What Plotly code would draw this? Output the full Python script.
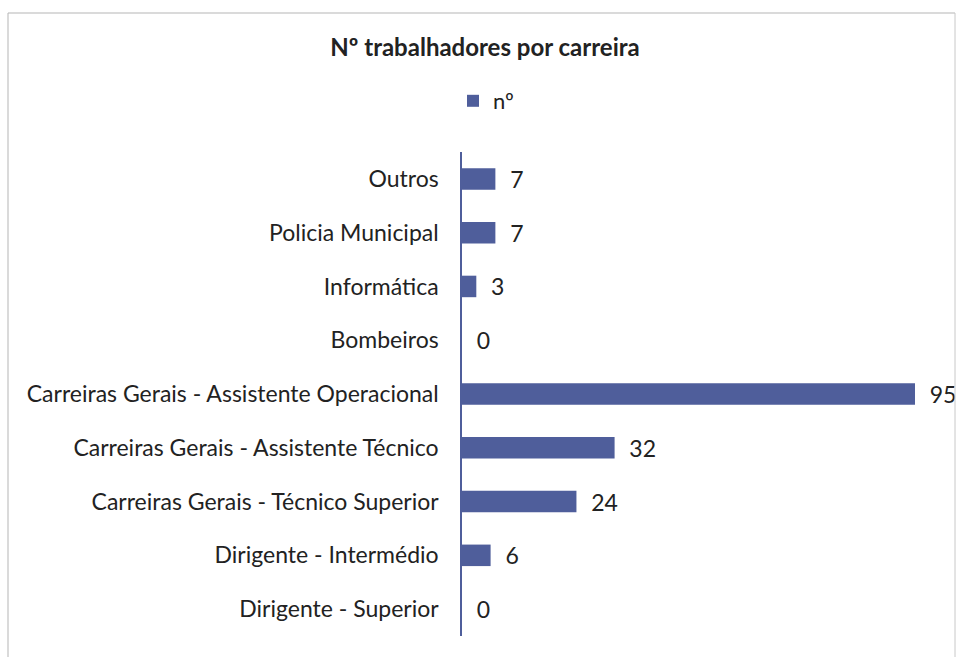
import plotly.graph_objects as go

categories = [
    "Dirigente - Superior",
    "Dirigente - Intermédio",
    "Carreiras Gerais - Técnico Superior",
    "Carreiras Gerais - Assistente Técnico",
    "Carreiras Gerais - Assistente Operacional",
    "Bombeiros",
    "Informática",
    "Policia Municipal",
    "Outros",
]
values = [0, 6, 24, 32, 95, 0, 3, 7, 7]
series_name = "nº"
title_text = "Nº trabalhadores por carreira"

BAR = "#4f5e9b"
TXT = "#222222"
FONT = "Lato"

W, H = 958, 657
L, R, T, B = 462, 43, 152, 21
pw = W - L - R
ph = H - T - B

def px_x(x):
    return (x - L) / pw

def px_y(y):
    return (H - B - y) / ph

fig = go.Figure()
fig.add_trace(go.Bar(
    y=categories,
    x=values,
    orientation="h",
    name=series_name,
    marker=dict(color=BAR, line=dict(width=0)),
    text=values,
    texttemplate="\u00a0\u00a0%{x}",
    textposition="outside",
    constraintext="none",
    cliponaxis=False,
    textfont=dict(family=FONT, size=23, color=TXT),
    showlegend=True,
))

fig.update_layout(
    width=W, height=H,
    margin=dict(l=L, r=R, t=T, b=B),
    paper_bgcolor="white",
    plot_bgcolor="white",
    bargap=0.6,
    font=dict(family=FONT, size=23, color=TXT),
    title=dict(
        text="<b>" + title_text + "</b>",
        x=485 / W, xanchor="center", xref="container",
        y=1 - 48 / H, yanchor="middle", yref="container",
        font=dict(family=FONT, size=24, color=TXT),
    ),
    legend=dict(
        orientation="h",
        x=px_x(486), xanchor="center",
        y=px_y(101), yanchor="middle",
        font=dict(family=FONT, size=22, color=TXT),
        itemwidth=30,
    ),
    xaxis=dict(
        range=[0, 95],
        showgrid=False, zeroline=False, showticklabels=False,
        showline=False, ticks="",
    ),
    yaxis=dict(
        type="category",
        categoryorder="array", categoryarray=categories,
        showgrid=False, zeroline=False,
        showline=True, linecolor=BAR, linewidth=1.5,
        ticks="", ticklabelstandoff=17,
        tickfont=dict(family=FONT, size=23, color=TXT),
    ),
    shapes=[
        dict(type="line", xref="paper", yref="paper",
             x0=px_x(8), x1=px_x(955), y0=px_y(13), y1=px_y(13),
             line=dict(color="#b5b5b5", width=1)),
        dict(type="line", xref="paper", yref="paper",
             x0=px_x(8), x1=px_x(8), y0=px_y(13), y1=px_y(657),
             line=dict(color="#b5b5b5", width=1)),
        dict(type="line", xref="paper", yref="paper",
             x0=px_x(955), x1=px_x(955), y0=px_y(13), y1=px_y(657),
             line=dict(color="#c8c8c8", width=1)),
    ],
)

fig.write_html(
    "out.html",
    config={"displayModeBar": False},
    post_script="document.body.style.margin='0px';document.body.style.overflow='hidden';",
)
